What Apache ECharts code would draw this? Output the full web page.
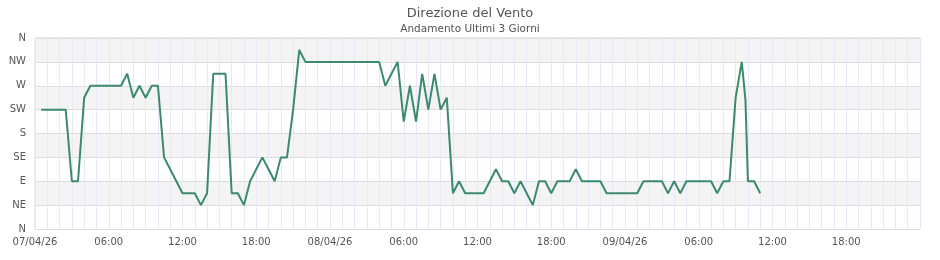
<!DOCTYPE html>
<html>
<head>
<meta charset="utf-8">
<script src="https://cdn.jsdelivr.net/npm/echarts@6/dist/echarts.min.js"></script>
<style>
html,body{margin:0;padding:0;background:#fff;}
#chart{width:940px;height:260px;}
</style>
</head>
<body>
<div id="chart"></div>
<script>
// Hours since 07/04/26 00:00
var hours = [0.5,2.5,3,3.5,4,4.5,7,7.5,8,8.5,9,9.5,10,10.5,11,11.5,12,13,13.5,14,14.5,15.5,16,16.5,17,17.5,18,18.5,19,19.5,20,20.5,21,21.5,22,
  28,28.5,29,29.5,30,30.5,31,31.5,32,32.5,33,33.5,34,34.5,35,36.5,37,37.5,38,38.5,39,39.5,40,40.5,41,41.5,42,42.5,43.5,44,44.5,46,46.5,
  49,49.5,51,51.5,52,52.5,53,55,55.5,56,56.5,57,57.5,57.8,58,58.5,59];
// Direction index: 0=N,1=NE,2=E,3=SE,4=S,5=SW,6=W,7=NW,8=N
var direction = [5,5,2,2,5.5,6,6,6.5,5.5,6,5.5,6,6,3,2.5,2,1.5,1.5,1,1.5,6.5,6.5,1.5,1.5,1,2,2.5,3,2.5,2,3,3,5,7.5,7,
  7,6,6.5,7,4.5,6,4.5,6.5,5,6.5,5,5.5,1.5,2,1.5,1.5,2,2.5,2,2,1.5,2,1.5,1,2,2,1.5,2,2,2.5,2,2,1.5,
  1.5,2,2,1.5,2,1.5,2,2,1.5,2,2,5.5,7,5.4,2,2,1.5];
var yLabels = ['N','NE','E','SE','S','SW','W','NW','N'];
var xTickLabels = ['07/04/26','06:00','12:00','18:00','08/04/26','06:00','12:00','18:00','09/04/26','06:00','12:00','18:00'];
var titleText = 'Direzione del Vento';
var subtitleText = 'Andamento Ultimi 3 Giorni';

var data = hours.map(function(h, i){ return [h, direction[i]]; });

var chart = echarts.init(document.getElementById('chart'));
chart.setOption({
  animation: false,
  backgroundColor: '#ffffff',
  textStyle: { fontFamily: 'DejaVu Sans' },
  title: [
    { text: titleText, left: 'center', top: 2,
      textStyle: { fontFamily: 'DejaVu Sans', fontSize: 13, fontWeight: 'normal', color: '#555555' } },
    { text: subtitleText, left: 'center', top: 19,
      textStyle: { fontFamily: 'DejaVu Sans', fontSize: 10.5, fontWeight: 'normal', color: '#555555' } }
  ],
  grid: { left: 35, right: 20, top: 38, bottom: 31, show: true, borderColor: '#d4d4d4', borderWidth: 1, backgroundColor: 'transparent' },
  xAxis: {
    type: 'value', min: 0, max: 72, interval: 6,
    axisLine: { show: false },
    axisTick: { show: false },
    axisLabel: {
      color: '#555555', fontSize: 10, margin: 8, fontFamily: 'DejaVu Sans',
      formatter: function(v){ var i = Math.round(v/6); return i < xTickLabels.length ? xTickLabels[i] : ''; }
    },
    splitLine: { show: true, lineStyle: { color: '#e8e8f8', width: 1 } },
    minorTick: { show: false, splitNumber: 6 },
    minorSplitLine: { show: true, lineStyle: { color: '#e8e8f8', width: 1 } }
  },
  yAxis: {
    type: 'value', min: 0, max: 8, interval: 1,
    axisLine: { show: false },
    axisTick: { show: false },
    axisLabel: {
      color: '#555555', fontSize: 10, margin: 9, fontFamily: 'DejaVu Sans',
      formatter: function(v){ return yLabels[Math.round(v)]; }
    },
    splitLine: { show: true, lineStyle: { color: '#dddddd', width: 1 } },
    splitArea: { show: true, areaStyle: { color: ['#ffffff', '#f4f4f4'] } }
  },
  series: [{
    type: 'line',
    data: data,
    showSymbol: false,
    symbol: 'none',
    lineStyle: { color: '#3c8a6e', width: 2 },
    z: 3
  }]
});
</script>
</body>
</html>
